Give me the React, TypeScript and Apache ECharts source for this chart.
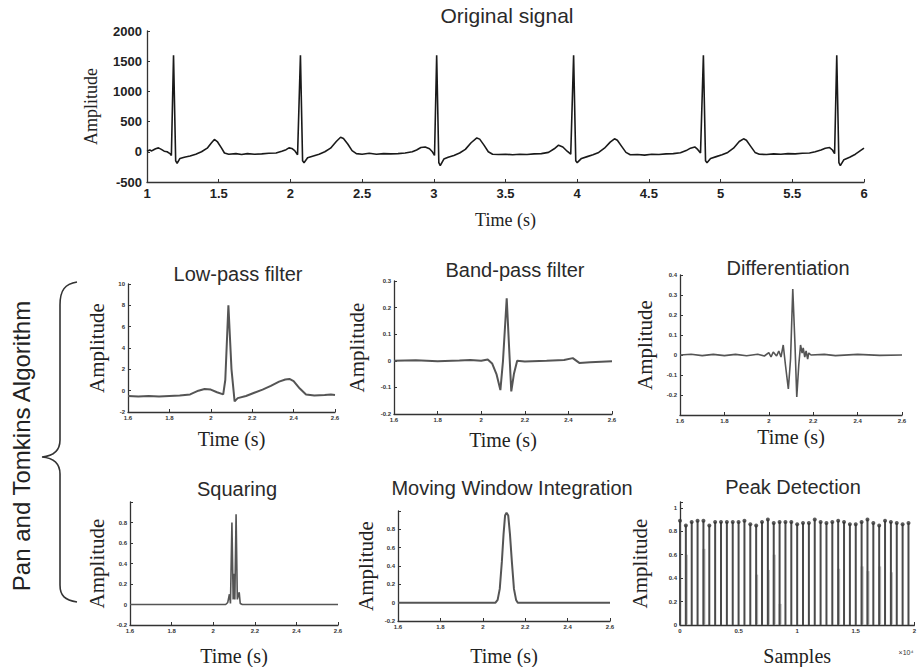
import React, { useEffect, useRef } from "react";
import * as echarts from "echarts";

// ---------- DATA ----------
const originalSignal: [number, number][] = [
  [1.00, 10], [1.02, 30], [1.03, 15], [1.04, 25], [1.06, 50], [1.08, 65], [1.10, 40], [1.12, 10], [1.14, 0], [1.16, -30], [1.17, -60],
  [1.185, 1600], [1.20, -150], [1.21, -190], [1.23, -110], [1.26, -90], [1.30, -70], [1.34, -40], [1.38, 0], [1.42, 60], [1.45, 150], [1.47, 205], [1.49, 170], [1.52, 60], [1.54, -20], [1.57, -40], [1.62, -30], [1.66, -45], [1.70, -30], [1.75, -40], [1.80, -35], [1.85, -25], [1.90, -20], [1.94, 10], [1.97, 35], [1.99, 65], [2.01, 55], [2.03, 20], [2.05, -50],
  [2.07, 1600], [2.085, -150], [2.095, -180], [2.12, -100], [2.16, -70], [2.20, -40], [2.24, 0], [2.28, 60], [2.32, 170], [2.35, 240], [2.37, 220], [2.40, 130], [2.43, 20], [2.46, -30], [2.50, -40], [2.55, -25], [2.60, -40], [2.65, -30], [2.70, -35], [2.75, -30], [2.80, -20], [2.85, 0], [2.88, 30], [2.91, 70], [2.94, 80], [2.97, 50], [2.99, 0], [3.005, -60],
  [3.02, 1600], [3.035, -180], [3.045, -230], [3.07, -120], [3.10, -90], [3.14, -60], [3.18, -20], [3.22, 40], [3.26, 150], [3.30, 230], [3.32, 210], [3.35, 110], [3.38, 0], [3.41, -40], [3.45, -45], [3.50, -40], [3.55, -50], [3.60, -40], [3.65, -45], [3.70, -35], [3.75, -30], [3.80, -10], [3.84, 50], [3.87, 110], [3.90, 80], [3.93, 10], [3.955, -40],
  [3.975, 1600], [3.99, -150], [4.00, -180], [4.03, -110], [4.07, -80], [4.11, -50], [4.15, -10], [4.19, 60], [4.23, 160], [4.26, 215], [4.28, 190], [4.31, 90], [4.34, -10], [4.37, -50], [4.42, -45], [4.47, -55], [4.52, -40], [4.57, -45], [4.62, -35], [4.67, -30], [4.72, -15], [4.76, 20], [4.79, 60], [4.82, 80], [4.84, 40], [4.86, -20],
  [4.88, 1600], [4.895, -150], [4.905, -180], [4.93, -110], [4.97, -80], [5.01, -50], [5.05, -10], [5.09, 60], [5.13, 170], [5.16, 215], [5.18, 190], [5.21, 90], [5.24, -10], [5.27, -40], [5.32, -45], [5.37, -35], [5.42, -40], [5.47, -30], [5.52, -35], [5.57, -25], [5.62, -20], [5.66, 0], [5.70, 30], [5.73, 60], [5.76, 70], [5.78, 30], [5.795, -30],
  [5.81, 1600], [5.825, -180], [5.835, -230], [5.86, -130], [5.90, -90], [5.94, -40], [5.97, 10], [6.00, 60],
];

const lowPass: [number, number][] = [
  [1.6, -0.5], [1.65, -0.55], [1.7, -0.5], [1.75, -0.55], [1.8, -0.5], [1.85, -0.45], [1.9, -0.35], [1.94, 0], [1.97, 0.15], [2.0, 0.1], [2.03, -0.15], [2.06, -0.35],
  [2.07, 1.0], [2.085, 8.0], [2.10, 2.0], [2.115, -1.0], [2.13, -0.7], [2.17, -0.5], [2.21, -0.2], [2.25, 0.1], [2.29, 0.45], [2.33, 0.85], [2.36, 1.05], [2.38, 1.1], [2.40, 0.9], [2.43, 0.2], [2.46, -0.35], [2.5, -0.45], [2.55, -0.4], [2.58, -0.35], [2.6, -0.4],
];

const bandPass: [number, number][] = [
  [1.6, 0], [1.7, 0.002], [1.8, -0.002], [1.9, 0.001], [1.95, 0.003], [2.0, 0], [2.03, 0.005], [2.05, -0.01], [2.07, -0.05], [2.088, -0.11], [2.10, 0],
  [2.117, 0.235], [2.128, 0.05], [2.138, -0.115], [2.15, -0.05], [2.165, 0], [2.2, -0.003], [2.3, 0], [2.38, 0.003], [2.42, 0.01], [2.45, -0.008], [2.5, -0.005], [2.6, -0.002],
];

const differentiation: [number, number][] = [
  [1.6, 0], [1.65, 0.004], [1.7, -0.003], [1.75, 0.003], [1.8, -0.003], [1.85, 0.003], [1.9, -0.004], [1.95, 0.004], [1.98, -0.005], [2.0, 0.012], [2.01, -0.01], [2.02, 0.015], [2.035, -0.005], [2.045, 0.02], [2.055, -0.01],
  [2.065, 0.05], [2.075, -0.05], [2.088, -0.17], [2.098, -0.02], [2.108, 0.33], [2.118, 0.05], [2.126, -0.21], [2.135, -0.05], [2.143, 0.05], [2.15, 0.01], [2.155, 0.035], [2.162, -0.01], [2.168, 0.02], [2.175, -0.02], [2.18, 0.01], [2.19, 0],
  [2.25, 0.003], [2.3, -0.003], [2.4, 0.003], [2.5, -0.002], [2.6, 0],
];

const squaring: [number, number][] = [
  [1.6, 0], [2.06, 0], [2.07, 0.02], [2.078, 0.1], [2.083, 0.01], [2.09, 0.8], [2.096, 0.05], [2.10, 0.3], [2.104, 0.05], [2.11, 0.88], [2.116, 0.05], [2.125, 0.12], [2.13, 0.01], [2.14, 0], [2.6, 0],
];

const movingWindow: [number, number][] = [
  [1.6, 0], [2.06, 0], [2.07, 0.03], [2.08, 0.15], [2.09, 0.45], [2.098, 0.75], [2.105, 0.95], [2.112, 0.98], [2.12, 0.95], [2.128, 0.75], [2.137, 0.45], [2.147, 0.15], [2.157, 0.03], [2.165, 0], [2.6, 0],
];

const peakSamples = [0, 0.05, 0.1, 0.15, 0.2, 0.25, 0.3, 0.35, 0.4, 0.45, 0.5, 0.55, 0.6, 0.65, 0.7, 0.75, 0.8, 0.85, 0.9, 0.95, 1.0, 1.05, 1.1, 1.15, 1.2, 1.25, 1.3, 1.35, 1.4, 1.45, 1.5, 1.55, 1.6, 1.65, 1.7, 1.75, 1.8, 1.85, 1.9, 1.95];
const peakHeights = [0.89, 0.85, 0.88, 0.89, 0.89, 0.85, 0.88, 0.88, 0.88, 0.88, 0.88, 0.89, 0.86, 0.85, 0.88, 0.90, 0.87, 0.88, 0.88, 0.88, 0.86, 0.87, 0.87, 0.90, 0.88, 0.87, 0.88, 0.89, 0.88, 0.86, 0.86, 0.88, 0.90, 0.87, 0.85, 0.89, 0.88, 0.87, 0.86, 0.87];
const faintSamples = [0.05, 0.2, 0.65, 0.75, 0.8, 0.85, 1.35, 1.55, 1.6, 1.7, 1.8];
const faintHeights = [0.6, 0.65, 0.43, 0.47, 0.6, 0.18, 0.48, 0.5, 0.46, 0.5, 0.45];

const topYTicks = [-500, 0, 500, 1000, 1500, 2000];
const timeTicks = [1.6, 1.8, 2.0, 2.2, 2.4, 2.6];

// ---------- CHART ----------
const SERIF = "Liberation Serif";
const SANS = "Liberation Sans";

export default function App() {
  const ref = useRef<HTMLDivElement>(null);
  useEffect(() => {
    if (!ref.current) return;
    const bracePath =
      "M 77 282 C 65 284 60 290 60 305 L 60 440 C 60 451 53 456 42 457 C 53 458 60 463 60 474 L 60 585 C 60 596 65 600 77 602";
    echarts.graphic.registerShape("brace", echarts.graphic.extendPath(bracePath, {}));

    const chart = echarts.init(ref.current, null, { renderer: "svg" });

    const grids = [
      { left: 147, top: 31, width: 717, height: 151 },
      { left: 128, top: 284, width: 207, height: 128 },
      { left: 394, top: 281, width: 218, height: 133 },
      { left: 680, top: 275, width: 222, height: 140 },
      { left: 130, top: 502, width: 208, height: 125 },
      { left: 398, top: 511, width: 212, height: 114 },
      { left: 680, top: 502, width: 235, height: 125 },
    ];

    const axisLine = { show: true, onZero: false, lineStyle: { color: "#333", width: 1.3 } };
    const axisTick = { show: true, inside: true, length: 3, lineStyle: { color: "#333" } };
    const smallLabel = (hide?: (v: number) => boolean) => ({
      fontSize: 6,
      color: "#333",
      fontFamily: SANS,
      fontWeight: "bold" as const,
      margin: 3,
      formatter: (v: number) => (hide && hide(v) ? "" : String(Math.round(v * 1000) / 1000)),
    });

    const xSub = (gi: number, name: string, gap: number) => ({
      type: "value",
      gridIndex: gi,
      min: timeTicks[0],
      max: timeTicks[timeTicks.length - 1],
      interval: 0.2,
      axisLine,
      axisTick,
      splitLine: { show: false },
      axisLabel: smallLabel(),
      name,
      nameLocation: "middle",
      nameGap: gap,
      nameTextStyle: { fontFamily: SERIF, fontSize: 20, color: "#222" },
    });
    const ySub = (gi: number, min: number, max: number, interval: number, gap: number, hide?: (v: number) => boolean) => ({
      type: "value",
      gridIndex: gi,
      min,
      max,
      interval,
      axisLine,
      axisTick,
      splitLine: { show: false },
      axisLabel: smallLabel(hide),
      name: "Amplitude",
      nameLocation: "middle",
      nameGap: gap,
      nameRotate: 90,
      nameTextStyle: { fontFamily: SERIF, fontSize: 21, color: "#222" },
    });

    const lineSeries = (gi: number, data: [number, number][], color = "#555", width = 2) => ({
      type: "line",
      xAxisIndex: gi,
      yAxisIndex: gi,
      data,
      showSymbol: false,
      lineStyle: { color, width },
      silent: true,
    });

    const titleText = (x: number, y: number, text: string, size = 20) => ({
      type: "text",
      x,
      y,
      style: { text, fontSize: size, fontFamily: SANS, fill: "#2a2a2a", textAlign: "center", textVerticalAlign: "middle" },
    });

    const option: any = {
      animation: false,
      backgroundColor: "#fff",
      grid: grids.map((g) => ({ ...g, containLabel: false })),
      xAxis: [
        {
          type: "value",
          gridIndex: 0,
          min: 1,
          max: 6,
          interval: 0.5,
          axisLine,
          axisTick,
          splitLine: { show: false },
          axisLabel: { fontSize: 13, color: "#222", fontFamily: SANS, fontWeight: "bold", margin: 5 },
          name: "Time (s)",
          nameLocation: "middle",
          nameGap: 29,
          nameTextStyle: { fontFamily: SERIF, fontSize: 18, color: "#222" },
        },
        xSub(1, "Time (s)", 17),
        xSub(2, "Time (s)", 16),
        xSub(3, "Time (s)", 12),
        xSub(4, "Time (s)", 21),
        xSub(5, "Time (s)", 25),
        {
          type: "value",
          gridIndex: 6,
          min: 0,
          max: 2,
          interval: 0.5,
          axisLine,
          axisTick,
          splitLine: { show: false },
          axisLabel: smallLabel(),
          name: "Samples",
          nameLocation: "middle",
          nameGap: 21,
          nameTextStyle: { fontFamily: SERIF, fontSize: 20, color: "#222" },
        },
      ],
      yAxis: [
        {
          type: "value",
          gridIndex: 0,
          min: topYTicks[0],
          max: topYTicks[topYTicks.length - 1],
          interval: 500,
          axisLine,
          axisTick,
          splitLine: { show: false },
          axisLabel: { fontSize: 13, color: "#222", fontFamily: SANS, fontWeight: "bold", margin: 5, formatter: (v: number) => String(v) },
          name: "Amplitude",
          nameLocation: "middle",
          nameGap: 47,
          nameRotate: 90,
          nameTextStyle: { fontFamily: SERIF, fontSize: 18, color: "#222" },
        },
        ySub(1, -2, 10, 2, 21),
        ySub(2, -0.2, 0.3, 0.1, 27),
        ySub(3, -0.3, 0.4, 0.1, 25, (v) => v < -0.25),
        ySub(4, -0.2, 1.0, 0.2, 23, (v) => v > 0.9),
        ySub(5, -0.2, 1.0, 0.2, 22, (v) => v > 0.9),
        ySub(6, 0, 1.05, 0.2, 30, (v) => v > 1.01),
      ],
      series: [
        lineSeries(0, originalSignal, "#1a1a1a", 1.6),
        lineSeries(1, lowPass),
        lineSeries(2, bandPass),
        lineSeries(3, differentiation, "#555", 1.6),
        lineSeries(4, squaring, "#555", 1.6),
        lineSeries(5, movingWindow),
        {
          type: "bar",
          xAxisIndex: 6,
          yAxisIndex: 6,
          data: faintSamples.map((x, i) => [x, faintHeights[i]]),
          barWidth: 3,
          barGap: "-100%",
          itemStyle: { color: "#bdbdbd" },
          silent: true,
        },
        {
          type: "bar",
          xAxisIndex: 6,
          yAxisIndex: 6,
          data: peakSamples.map((x, i) => [x, peakHeights[i]]),
          barWidth: 2,
          barGap: "-100%",
          itemStyle: { color: "#4a4a4a" },
          silent: true,
        },
        {
          type: "scatter",
          xAxisIndex: 6,
          yAxisIndex: 6,
          data: peakSamples.map((x, i) => [x, peakHeights[i]]),
          symbolSize: 4,
          itemStyle: { color: "#333" },
          silent: true,
        },
      ],
      graphic: [
        titleText(507, 15, "Original signal", 21),
        titleText(238, 274, "Low-pass filter"),
        titleText(515, 270, "Band-pass filter"),
        titleText(788, 268, "Differentiation"),
        titleText(237, 489, "Squaring"),
        titleText(512, 488, "Moving Window Integration"),
        titleText(793, 487, "Peak Detection"),
        {
          type: "text",
          x: 21,
          y: 446,
          rotation: Math.PI / 2,
          style: { text: "Pan and Tomkins Algorithm", fontSize: 24, fontFamily: SANS, fill: "#222", textAlign: "center", textVerticalAlign: "middle" },
        },
        {
          type: "brace",
          x: 0,
          y: 0,
          style: { stroke: "#333", fill: "none", lineWidth: 1.6 },
        },
        {
          type: "text",
          x: 906,
          y: 652,
          style: { text: "×10⁴", fontSize: 7, fontFamily: SANS, fill: "#333", textAlign: "center", textVerticalAlign: "middle" },
        },
      ],
    };
    chart.setOption(option);
    return () => chart.dispose();
  }, []);
  return (
    <div
      ref={ref}
      style={{ position: "fixed", left: 0, top: 0, width: 919, height: 667, background: "#fff" }}
    />
  );
}
